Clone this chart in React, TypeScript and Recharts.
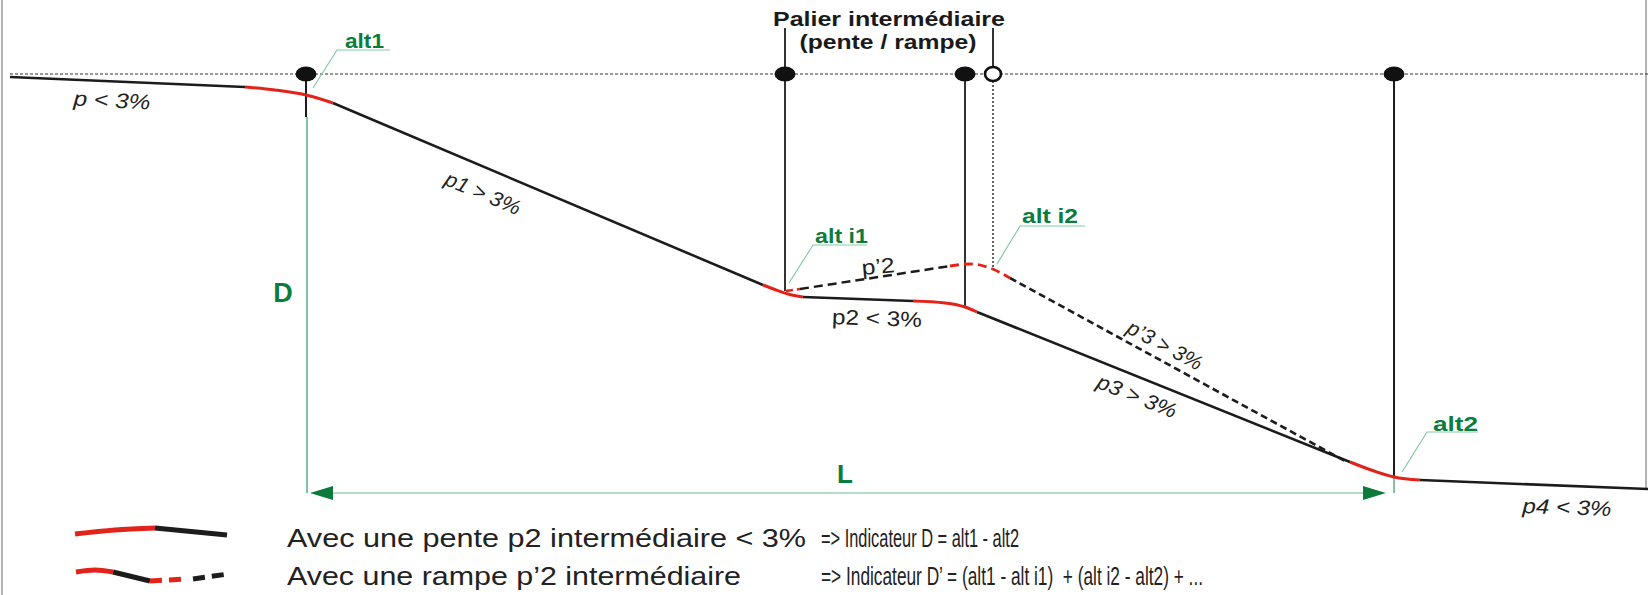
import React from 'react'
import { ComposedChart, Line, XAxis, YAxis, ReferenceLine, ReferenceDot } from 'recharts'

type Pt = { x: number; y: number }

const W = 1648
const H = 595

// longitudinal profile: x = distance, y = depth under the reference level (diagram units)
const refLevel: Pt[] = [{ x: 10, y: 74 }, { x: 1648, y: 74 }]
const slopeP: Pt[] = [{ x: 10, y: 77 }, { x: 245, y: 87 }]
const bendAlt1: Pt[] = [{ x: 245, y: 87 }, { x: 275, y: 90 }, { x: 306, y: 95 }, { x: 333, y: 103 }]
const slopeP1: Pt[] = [{ x: 333, y: 103 }, { x: 763, y: 285 }]
const bendI1: Pt[] = [{ x: 763, y: 285 }, { x: 776, y: 290 }, { x: 788, y: 294 }, { x: 803, y: 297 }]
const slopeP2: Pt[] = [{ x: 803, y: 297 }, { x: 913, y: 301 }]
const bendI2: Pt[] = [{ x: 913, y: 301 }, { x: 945, y: 303 }, { x: 965, y: 307 }, { x: 977, y: 312 }]
const slopeP3: Pt[] = [{ x: 977, y: 312 }, { x: 1350, y: 462 }]
const bendAlt2: Pt[] = [{ x: 1350, y: 462 }, { x: 1374, y: 471 }, { x: 1394, y: 477 }, { x: 1420, y: 480 }]
const slopeP4: Pt[] = [{ x: 1420, y: 480 }, { x: 1648, y: 489 }]

// alternative profile with an intermediate ramp
const rampStart: Pt[] = [{ x: 786, y: 291 }, { x: 800, y: 289 }]
const rampP2: Pt[] = [{ x: 800, y: 289 }, { x: 950, y: 266 }]
const rampTop: Pt[] = [{ x: 950, y: 266 }, { x: 970, y: 264 }, { x: 990, y: 268 }, { x: 1010, y: 278 }]
const rampP3: Pt[] = [{ x: 1010, y: 278 }, { x: 1345, y: 461 }]

// stations
const stationDots: Pt[] = [{ x: 306, y: 74 }, { x: 785, y: 74 }, { x: 965, y: 74 }, { x: 1394, y: 74 }]
const openStation: Pt = { x: 993, y: 74 }

// label leaders
const leaderAlt1: Pt[] = [{ x: 313, y: 88 }, { x: 337, y: 50 }, { x: 390, y: 50 }]
const leaderI1: Pt[] = [{ x: 789, y: 283 }, { x: 813, y: 245 }, { x: 867, y: 245 }]
const leaderI2: Pt[] = [{ x: 997, y: 264 }, { x: 1020, y: 226 }, { x: 1085, y: 226 }]
const leaderAlt2: Pt[] = [{ x: 1402, y: 472 }, { x: 1427, y: 432 }, { x: 1478, y: 432 }]

// legend samples
const legend1Red: Pt[] = [{ x: 75, y: 534 }, { x: 115, y: 530 }, { x: 155, y: 528 }]
const legend1Black: Pt[] = [{ x: 155, y: 528 }, { x: 227, y: 535 }]
const legend2Red: Pt[] = [{ x: 76, y: 572 }, { x: 95, y: 570 }, { x: 113, y: 572 }]
const legend2Black: Pt[] = [{ x: 113, y: 572 }, { x: 150, y: 581 }]
const legend2RedDash: Pt[] = [{ x: 150, y: 581 }, { x: 188, y: 579 }]
const legend2BlackDash: Pt[] = [{ x: 193, y: 579 }, { x: 228, y: 574 }]

const legendLabels = ['Avec une pente p2 intermédiaire < 3%', 'Avec une rampe p\u20192 intermédiaire']
const legendFormulas = [
  '=> Indicateur D = alt1 - alt2',
  '=> Indicateur D\u2019 = (alt1 - alt i1)  + (alt i2 - alt2) + ...',
]

const FONT = '"Liberation Sans", Arial, sans-serif'
const BLACK = '#1c1c1c'
const RED = '#e2231a'
const GREEN = '#0a7d3e'
const LEADER = '#86c9a6'

const seg = (key: string, data: Pt[], stroke: string, width: number, type: 'linear' | 'monotone' = 'linear', dash?: string) => (
  <Line
    key={key}
    name={key}
    data={data}
    dataKey="y"
    type={type}
    stroke={stroke}
    strokeWidth={width}
    strokeDasharray={dash}
    dot={false}
    activeDot={false}
    isAnimationActive={false}
  />
)

const txt = (key: string, x: number, y: number, content: string, props: any, rotate = 0) => (
  <ReferenceDot
    key={key}
    x={x}
    y={y}
    r={0}
    ifOverflow="visible"
    shape={(p: any) => (
      <text
        x={p.cx}
        y={p.cy}
        fontFamily={FONT}
        style={{ whiteSpace: 'pre' }}
        transform={rotate ? `rotate(${rotate} ${p.cx} ${p.cy})` : undefined}
        {...props}
      >
        {content}
      </text>
    )}
  />
)

const vline = (key: string, x: number, y1: number, y2: number, stroke: string, width: number, dash?: string) => (
  <ReferenceLine
    key={key}
    segment={[{ x, y: y1 }, { x, y: y2 }]}
    stroke={stroke}
    strokeWidth={width}
    strokeDasharray={dash}
    ifOverflow="visible"
  />
)

export default function App() {
  const slopeText = { fontSize: 21, fill: '#222', textAnchor: 'middle', dominantBaseline: 'central', lengthAdjust: 'spacingAndGlyphs' }
  const italic = { ...slopeText, fontStyle: 'italic' }
  const greenLabel = { fontSize: 21, fontWeight: 'bold', fill: GREEN, lengthAdjust: 'spacingAndGlyphs' }
  const legendText = { fontSize: 25, fill: '#222', lengthAdjust: 'spacingAndGlyphs' }

  return (
    <div style={{ width: W, height: H, background: '#fff' }}>
      <style>{'body{margin:0}'}</style>
      <ComposedChart width={W} height={H} margin={{ top: 0, right: 0, bottom: 0, left: 0 }}>
        <XAxis type="number" dataKey="x" domain={[0, W]} hide allowDataOverflow />
        <YAxis type="number" domain={[0, H]} reversed hide allowDataOverflow />

        {/* frame */}
        {vline('frameL', 2, 0, H, '#9a9a9a', 1.5)}
        {vline('frameR', 1646, 0, 489, '#9a9a9a', 1.5)}

        {/* reference level */}
        <ReferenceLine segment={refLevel} stroke="#333" strokeWidth={1.2} strokeDasharray="3 2" ifOverflow="visible" />

        {/* station verticals */}
        {vline('v1', 306, 74, 117, BLACK, 2)}
        {vline('v1g', 307, 117, 493, '#2f9b64', 1.2)}
        {vline('v2', 785, 28, 291, '#333', 2)}
        {vline('v3', 965, 74, 306, '#333', 2)}
        {vline('v4a', 993, 28, 67, '#333', 2)}
        {vline('v4b', 993, 81, 268, '#333', 1.5, '2 2')}
        {vline('v5', 1394, 74, 478, BLACK, 2)}
        {vline('v5g', 1394, 478, 493, '#2f9b64', 1.2)}

        {/* L dimension */}
        <ReferenceLine segment={[{ x: 330, y: 493 }, { x: 1366, y: 493 }]} stroke="#b5dcc9" strokeWidth={2} ifOverflow="visible" />
        <ReferenceDot
          x={310}
          y={493}
          r={0}
          ifOverflow="visible"
          shape={(p: any) => <polygon points={`${p.cx},${p.cy} ${p.cx + 23},${p.cy - 7} ${p.cx + 23},${p.cy + 7}`} fill="#0d7a3a" />}
        />
        <ReferenceDot
          x={1386}
          y={493}
          r={0}
          ifOverflow="visible"
          shape={(p: any) => <polygon points={`${p.cx},${p.cy} ${p.cx - 23},${p.cy - 7} ${p.cx - 23},${p.cy + 7}`} fill="#0d7a3a" />}
        />

        {/* leaders */}
        {seg('leaderAlt1', leaderAlt1, LEADER, 1.2)}
        {seg('leaderI1', leaderI1, LEADER, 1.2)}
        {seg('leaderI2', leaderI2, LEADER, 1.2)}
        {seg('leaderAlt2', leaderAlt2, LEADER, 1.2)}

        {/* ramp alternative */}
        {seg('rampStart', rampStart, RED, 2.6, 'linear', '7 4')}
        {seg('rampP2', rampP2, BLACK, 2.5, 'linear', '9 5')}
        {seg('rampTop', rampTop, RED, 2.8, 'monotone', '9 5')}
        {seg('rampP3', rampP3, BLACK, 2.6, 'linear', '7 4')}

        {/* main profile */}
        {seg('slopeP', slopeP, BLACK, 2.6)}
        {seg('slopeP1', slopeP1, BLACK, 2.6)}
        {seg('slopeP2', slopeP2, BLACK, 2.6)}
        {seg('slopeP3', slopeP3, BLACK, 2.6)}
        {seg('slopeP4', slopeP4, BLACK, 2.6)}
        {seg('bendAlt1', bendAlt1, RED, 3, 'monotone')}
        {seg('bendI1', bendI1, RED, 3, 'monotone')}
        {seg('bendI2', bendI2, RED, 3, 'monotone')}
        {seg('bendAlt2', bendAlt2, RED, 3, 'monotone')}

        {/* legend samples */}
        {seg('legend1Red', legend1Red, RED, 5, 'monotone')}
        {seg('legend1Black', legend1Black, BLACK, 5)}
        {seg('legend2Red', legend2Red, RED, 5, 'monotone')}
        {seg('legend2Black', legend2Black, BLACK, 5)}
        {seg('legend2RedDash', legend2RedDash, RED, 5, 'linear', '12 7')}
        {seg('legend2BlackDash', legend2BlackDash, BLACK, 5, 'linear', '12 7')}

        {/* station markers */}
        {stationDots.map((d, i) => (
          <ReferenceDot
            key={`st${i}`}
            x={d.x}
            y={d.y}
            r={0}
            ifOverflow="visible"
            shape={(p: any) => <ellipse cx={p.cx} cy={p.cy} rx={10.5} ry={7.5} fill="#111" />}
          />
        ))}
        <ReferenceDot
          x={openStation.x}
          y={openStation.y}
          r={0}
          ifOverflow="visible"
          shape={(p: any) => <ellipse cx={p.cx} cy={p.cy} rx={8} ry={7} fill="#fff" stroke="#111" strokeWidth={2.6} />}
        />

        {/* texts */}
        {txt('title1', 889, 26, 'Palier intermédiaire', { fontSize: 21, fontWeight: 'bold', fill: '#1a1a1a', textAnchor: 'middle', textLength: 232, lengthAdjust: 'spacingAndGlyphs' })}
        {txt('title2', 888, 49, '(pente / rampe)', { fontSize: 21, fontWeight: 'bold', fill: '#1a1a1a', textAnchor: 'middle', textLength: 177, lengthAdjust: 'spacingAndGlyphs' })}

        {txt('alt1', 345, 48, 'alt1', { ...greenLabel, textLength: 39 })}
        {txt('altI1', 815, 243, 'alt i1', { ...greenLabel, textLength: 53 })}
        {txt('altI2', 1022, 223, 'alt i2', { ...greenLabel, textLength: 56 })}
        {txt('alt2', 1433, 431, 'alt2', { ...greenLabel, textLength: 45 })}
        {txt('D', 283, 293, 'D', { fontSize: 27, fontWeight: 'bold', fill: GREEN, textAnchor: 'middle', dominantBaseline: 'central' })}
        {txt('L', 845, 474, 'L', { fontSize: 26, fontWeight: 'bold', fill: GREEN, textAnchor: 'middle', dominantBaseline: 'central' })}

        {txt('p', 112, 100, 'p < 3%', { ...italic, textLength: 77 }, 3)}
        {txt('p1', 483, 193, 'p1 > 3%', { ...italic, textLength: 80 }, 23)}
        {txt('pp2', 878, 266, 'p\u20192', { ...slopeText, textLength: 33 }, -5)}
        {txt('p2', 877, 318, 'p2 < 3%', { ...slopeText, textLength: 90 }, 2)}
        {txt('p3', 1137, 396, 'p3 > 3%', { ...italic, textLength: 84 }, 22)}
        {txt('pp3', 1165, 345, 'p\u20193 > 3%', { ...italic, textLength: 82 }, 28)}
        {txt('p4', 1567, 507, 'p4 < 3%', { ...italic, textLength: 89 }, 2)}

        {/* legend texts */}
        {txt('lg1a', 287, 547, legendLabels[0], { ...legendText, textLength: 519 })}
        {txt('lg1b', 821, 547, legendFormulas[0], { ...legendText, textLength: 198 })}
        {txt('lg2a', 287, 585, legendLabels[1], { ...legendText, textLength: 454 })}
        {txt('lg2b', 821, 585, legendFormulas[1], { ...legendText, textLength: 382 })}
      </ComposedChart>
    </div>
  )
}
